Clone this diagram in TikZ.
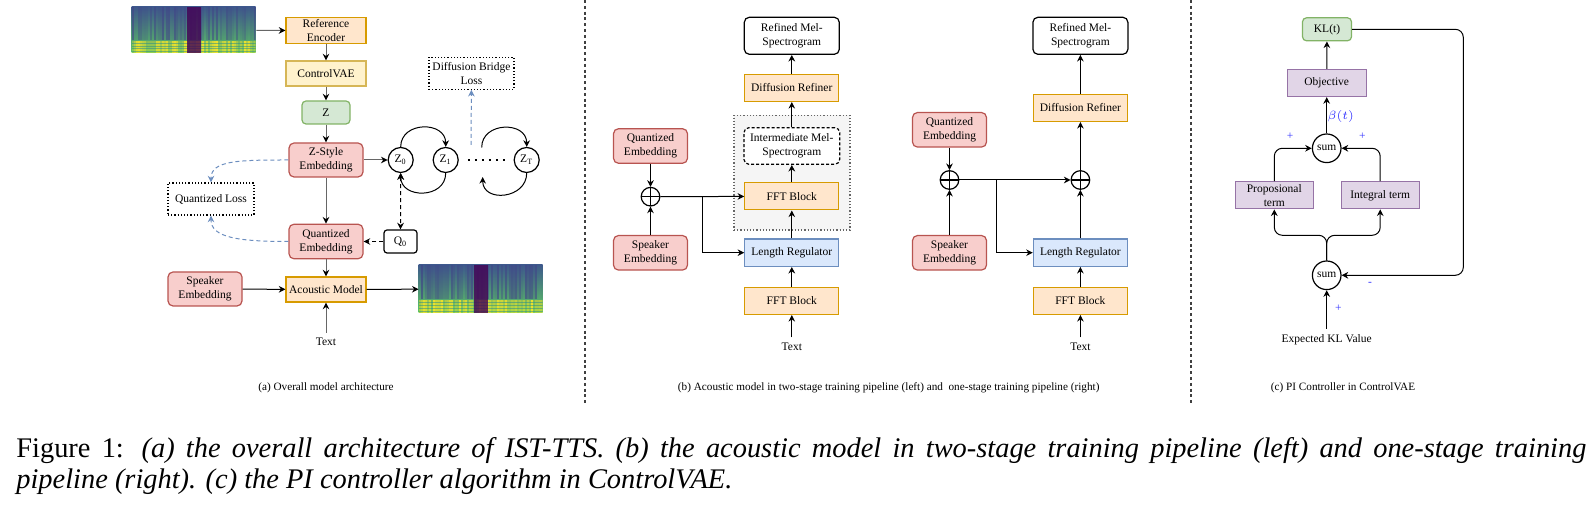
\documentclass[tikz,border=0pt]{standalone}
\usepackage{fontspec}
\setmainfont{Liberation Serif}
\usetikzlibrary{arrows.meta}

\definecolor{oFill}{HTML}{FFE6CC}\definecolor{oLine}{HTML}{D79B00}
\definecolor{yFill}{HTML}{FFF2CC}\definecolor{yLine}{HTML}{D6B656}
\definecolor{gFill}{HTML}{D5E8D4}\definecolor{gLine}{HTML}{82B366}
\definecolor{rFill}{HTML}{F8CECC}\definecolor{rLine}{HTML}{B85450}
\definecolor{bFill}{HTML}{DAE8FC}\definecolor{bLine}{HTML}{6C8EBF}
\definecolor{pFill}{HTML}{E1D5E7}\definecolor{pLine}{HTML}{9673A6}
\definecolor{grpFill}{HTML}{F5F5F5}\definecolor{grpLine}{HTML}{666666}
\definecolor{lblBlue}{HTML}{3333FF}
\definecolor{melTop}{HTML}{3E5A8C}\definecolor{melMid}{HTML}{23898E}
\definecolor{melBot}{HTML}{5DC863}\definecolor{melYel}{HTML}{FDE725}
\definecolor{melDark}{HTML}{414487}\definecolor{melPurp}{HTML}{440154}

\newcommand{\boxfont}{\fontsize{5.75}{7}\selectfont}
\newcommand{\subcapfont}{\fontsize{5.6}{6.5}\selectfont}
\newcommand{\capfont}{\fontsize{14.2}{17}\selectfont}

% mel-spectrogram picture inside a node: node, width, height (px), seed
\newcommand{\melfill}[4]{%
  \begin{scope}[shift={(#1.north west)}]
    \clip (0,0) rectangle (#2,#3);
    \shade[top color=melTop, middle color=melMid, bottom color=melBot] (0,0) rectangle (#2,#3);
    \pgfmathsetseed{#4}
    \foreach \i in {0,2,...,#2}{%
      \pgfmathsetmacro{\opA}{0.7*rnd}
      \pgfmathsetmacro{\opB}{0.2+0.7*rnd}
      \fill[melDark, opacity=\opA] (\i,0) rectangle ++(2,0.72*#3);
      \fill[melYel, opacity=\opB] (\i,0.74*#3) rectangle ++(2,0.26*#3);
    }
    \foreach \j in {0.78,0.84,0.9,0.96}
      \fill[melMid, opacity=0.5] (0,\j*#3) rectangle ++(#2,0.025*#3);
    \fill[melPurp, opacity=0.8] (0.45*#2,0) rectangle (0.56*#2,#3);
  \end{scope}}

\tikzset{
  >={Stealth[length=3.3pt,width=3.3pt]},
  arr/.style={->, line width=0.5pt},
  garr/.style={-{Stealth[length=3.3pt,width=3.3pt,color=black]}, line width=0.5pt, draw=black!60},
  darr/.style={arr, dash pattern=on 2pt off 1.5pt},
  barr/.style={arr, draw=bLine, dash pattern=on 2pt off 1.5pt},
  box/.style={draw, line width=0.6pt, inner sep=0pt, align=center, font=\boxfont},
  orangebox/.style={box, fill=oFill, draw=oLine},
  yellowbox/.style={box, fill=yFill, draw=yLine},
  greenbox/.style={box, fill=gFill, draw=gLine, rounded corners=2pt},
  redbox/.style={box, fill=rFill, draw=rLine, rounded corners=2.5pt},
  bluebox/.style={box, fill=bFill, draw=bLine},
  purplebox/.style={box, fill=pFill, draw=pLine},
  whitebox/.style={box, fill=white, draw=black},
  lossbox/.style={box, fill=white, densely dotted},
  group/.style={draw=grpLine, fill=grpFill, densely dotted, line width=0.6pt, inner sep=0pt},
  wide/.style={minimum width=47pt, minimum height=13.6pt},
  emb/.style={minimum width=37pt, minimum height=17.3pt},
  term/.style={minimum width=39pt, minimum height=13.5pt},
  zcirc/.style={circle, draw, line width=0.6pt, fill=white, minimum size=12.5pt, inner sep=0pt, font=\boxfont},
  sumcirc/.style={circle, draw, line width=0.6pt, fill=white, minimum size=14.3pt, inner sep=0pt, font=\boxfont},
  oplus/.style={circle, draw, line width=0.6pt, fill=white, minimum size=9.3pt, inner sep=0pt,
    path picture={\draw[line width=0.6pt] (path picture bounding box.north) -- (path picture bounding box.south)
      (path picture bounding box.west) -- (path picture bounding box.east);}},
  plain/.style={inner sep=2.5pt, font=\boxfont},
  sign/.style={inner sep=0pt, text=lblBlue, font=\boxfont},
  subcap/.style={inner sep=0pt, font=\subcapfont},
  melimg/.style 2 args={inner sep=0pt, minimum width=#1*0.5pt, minimum height=#2*0.5pt},
  sep/.style={draw=black!75, line width=0.8pt, dash pattern=on 1.5pt off 1.4pt}
}

\begin{document}
\begin{tikzpicture}[x=0.5pt, y=-0.5pt]
  \useasboundingbox (0,0) rectangle (1590,522);

  % (a) overall architecture
  \node[melimg={124}{46}] (melA) at (194,30.3) {};
  \melfill{melA}{124}{46}{7}
  \node[orangebox, minimum width=40pt, minimum height=12.8pt] (refenc) at (326,30.5) {Reference\\Encoder};
  \node[yellowbox, minimum width=40pt, minimum height=12.5pt] (cvae) at (326,73.5) {ControlVAE};
  \node[greenbox, minimum width=24pt, minimum height=11.5pt] (zlat) at (326,112.5) {Z};
  \node[redbox, minimum width=37pt, minimum height=17pt] (zstyle) at (326,160) {Z-Style\\Embedding};
  \node[redbox, minimum width=37pt, minimum height=17.3pt] (qemb) at (326,241.5) {Quantized\\Embedding};
  \node[orangebox, minimum width=40pt, minimum height=12.5pt] (acou) at (326,289.5) {Acoustic Model};
  \node[redbox, minimum width=37pt, minimum height=17pt] (spkA) at (205,289) {Speaker\\Embedding};
  \node[plain] (textA) at (326,342) {Text};
  \node[melimg={124}{48}] (melB) at (481,289) {};
  \melfill{melB}{124}{48}{23}
  \node[zcirc] (z0) at (400.7,160) {Z\textsubscript{0}};
  \node[zcirc] (z1) at (445.7,160) {Z\textsubscript{1}};
  \node[zcirc] (zT) at (526.7,160) {Z\textsubscript{T}};
  \coordinate (zTin) at (481.7,147.5);
  \coordinate (zTout) at (482.7,177);
  \node[whitebox, rounded corners=1.5pt, minimum width=16.5pt, minimum height=11.5pt] (q0) at (400.5,241.5) {Q\textsubscript{0}};
  \node[lossbox, minimum width=42.5pt, minimum height=16pt] (dbloss) at (471.5,73.3) {Diffusion Bridge\\Loss};
  \node[lossbox, minimum width=43pt, minimum height=16pt] (qloss) at (211,199) {Quantized Loss};
  \coordinate (dbsrc) at (471,145);

  \draw[garr] (melA) -- (refenc);
  \draw[garr] (refenc) -- (cvae);
  \draw[garr] (cvae) -- (zlat);
  \draw[garr] (zlat) -- (zstyle);
  \draw[garr] (zstyle) -- (z0);
  \draw[garr] (zstyle) -- (qemb);
  \draw[garr] (qemb) -- (acou);
  \draw[garr] (textA) -- (acou);
  \draw[arr] (spkA) -- (acou);
  \draw[arr] (acou) -- (melB);
  \draw[arr] (z0.north) .. controls +(0,-26) and +(0,-26) .. (z1.north);
  \draw[arr] (z1.south) .. controls +(0,26) and +(0,26) .. (z0.south);
  \draw[arr] (zTin) .. controls +(0,-26) and +(0,-26) .. (zT.north);
  \draw[arr] (zT.south) .. controls +(0,26) and +(0,26) .. (zTout);
  \draw[line width=0.9pt, dash pattern=on 0.9pt off 2.6pt, shorten <=4.5pt, shorten >=3pt] (z1) -- (zT);
  \draw[darr] (q0) -- (qemb);
  \draw[darr, <->] (z0) -- (q0);
  \draw[barr] (dbsrc) -- (dbloss);
  \draw[barr] (zstyle.west) .. controls +(-50,0) and +(0,-22) .. (qloss.north);
  \draw[barr] (qemb.west) .. controls +(-50,0) and +(0,22) .. (qloss.south);
  \node[subcap] (capa) at (326,388) {(a) Overall model architecture};

  \draw[sep] (585,0) -- (585,403);
  \draw[sep] (1191,0) -- (1191,403);

  % (b) acoustic model, two-stage (left) and one-stage (right)
  \node[group, minimum width=58pt, minimum height=57.3pt] (stage) at (792,172.7) {};
  \node[whitebox, rounded corners=2.5pt, minimum width=47.5pt, minimum height=18.5pt] (refL) at (791.8,35.8) {Refined Mel-\\Spectrogram};
  \node[orangebox, wide] (drL) at (791.8,87.8) {Diffusion Refiner};
  \node[whitebox, dash pattern=on 1.5pt off 1pt, rounded corners=2.5pt, minimum width=47.9pt, minimum height=18.3pt] (interL) at (791.8,146) {Intermediate Mel-\\Spectrogram};
  \node[orangebox, wide] (fftuL) at (791.8,196.3) {FFT Block};
  \node[bluebox, wide] (lrL) at (791.8,252.7) {Length Regulator};
  \node[orangebox, wide] (fftL) at (791.8,300.8) {FFT Block};
  \node[plain] (textL) at (791.8,346.7) {Text};
  \node[redbox, emb] (qeL) at (650.5,146) {Quantized\\Embedding};
  \node[oplus] (addL) at (650.5,196.7) {};
  \node[redbox, emb] (spkL) at (650.5,252.8) {Speaker\\Embedding};
  \coordinate (brL) at (702.9,196.7);

  \draw[arr] (textL) -- (fftL);
  \draw[arr] (fftL) -- (lrL);
  \draw[arr] (lrL) -- (fftuL);
  \draw[arr] (fftuL) -- (interL);
  \draw[arr] (interL) -- (drL);
  \draw[arr] (drL) -- (refL);
  \draw[arr] (qeL) -- (addL);
  \draw[arr] (spkL) -- (addL);
  \draw[arr] (addL) -- (fftuL);
  \draw[arr] (brL) |- (lrL);

  \node[whitebox, rounded corners=2.5pt, minimum width=47.5pt, minimum height=18.5pt] (refR) at (1080.4,35.8) {Refined Mel-\\Spectrogram};
  \node[orangebox, wide] (drR) at (1080.4,107.8) {Diffusion Refiner};
  \node[oplus] (addR) at (1080.4,180) {};
  \node[bluebox, wide] (lrR) at (1080.4,252.7) {Length Regulator};
  \node[orangebox, wide] (fftR) at (1080.4,300.8) {FFT Block};
  \node[plain] (textR) at (1080.4,346.7) {Text};
  \node[redbox, emb] (qeR) at (949.5,129.8) {Quantized\\Embedding};
  \node[oplus] (addM) at (949.5,180) {};
  \node[redbox, emb] (spkR) at (949.5,252.8) {Speaker\\Embedding};
  \coordinate (brR) at (996.1,180);

  \draw[arr] (textR) -- (fftR);
  \draw[arr] (fftR) -- (lrR);
  \draw[arr] (lrR) -- (addR);
  \draw[arr] (addR) -- (drR);
  \draw[arr] (drR) -- (refR);
  \draw[arr] (qeR) -- (addM);
  \draw[arr] (spkR) -- (addM);
  \draw[arr] (addM) -- (addR);
  \draw[arr] (brR) |- (lrR);
  \node[subcap] (capb) at (888.7,388) {(b) Acoustic model in two-stage training pipeline (left) and~ one-stage training pipeline (right)};

  % (c) PI controller
  \node[greenbox, minimum width=24.5pt, minimum height=11.5pt] (kl) at (1327,29.3) {KL(t)};
  \node[purplebox, minimum width=39.5pt, minimum height=13.5pt] (obj) at (1326.7,83) {Objective};
  \node[sumcirc] (sumT) at (1326.7,148.3) {sum};
  \node[purplebox, term] (prop) at (1274.3,195.3) {Proposional\\term};
  \node[purplebox, term] (integ) at (1380.2,195.3) {Integral term};
  \node[sumcirc] (sumB) at (1326.7,275.3) {sum};
  \node[plain] (expkl) at (1326.7,339.3) {Expected KL Value};
  \coordinate (fork) at (1326.7,235.3);
  \coordinate (loopNE) at (1463.3,29.3);
  \node[sign] (beta) at (1340.7,116.7) {$\beta(t)$};
  \node[sign] (pl1) at (1290,136) {+};
  \node[sign] (pl2) at (1362.3,136) {+};
  \node[sign] (pl3) at (1338.3,308.3) {+};
  \node[sign] (mi1) at (1370,284) {-};

  \draw[arr] (obj) -- (kl);
  \draw[arr] (sumT) -- (obj);
  \draw[arr, rounded corners=4pt] (prop.north) |- (sumT.west);
  \draw[arr, rounded corners=4pt] (integ.north) |- (sumT.east);
  \draw[arr, rounded corners=4pt] (sumB.north) -- (fork) -| (prop.south);
  \draw[arr, rounded corners=4pt] (sumB.north) -- (fork) -| (integ.south);
  \draw[arr] (expkl) -- (sumB);
  \draw[arr, rounded corners=4pt] (kl.east) -- (loopNE) |- (sumB.east);
  \node[subcap] (capc) at (1343,388) {(c) PI Controller in ControlVAE};

  % figure caption
  \node[anchor=base west, inner sep=0pt, font=\capfont] (cap1) at (16,458)
    {\makebox[785pt][s]{Figure 1: \textit{(a) the overall architecture of IST-TTS. (b) the acoustic model in two-stage training pipeline (left) and one-stage training}}};
  \node[anchor=base west, inner sep=0pt, font=\capfont] (cap2) at (16,489)
    {\textit{pipeline (right). (c) the PI controller algorithm in ControlVAE.}};
\end{tikzpicture}
\end{document}
